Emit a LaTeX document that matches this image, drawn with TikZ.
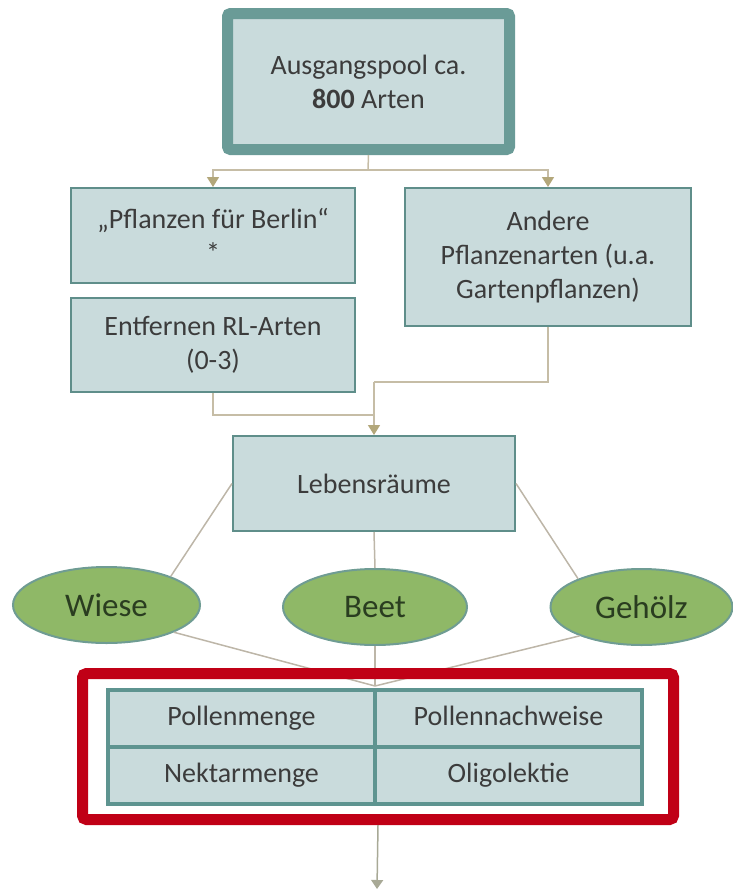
\documentclass[tikz,border=0pt]{standalone}
\usepackage{fontspec}
\setmainfont{Carlito}
\usetikzlibrary{arrows.meta,shapes.geometric}
\definecolor{boxfill}{HTML}{C9DBDC}
\definecolor{boxline}{HTML}{5F8E8A}
\definecolor{topline}{HTML}{6A9B97}
\definecolor{tabline}{HTML}{5E9490}
\definecolor{ellfill}{HTML}{8FB867}
\definecolor{ellline}{HTML}{6F9C93}
\definecolor{elltext}{HTML}{2A3D20}
\definecolor{txt}{HTML}{3C3C3C}
\definecolor{conncol}{HTML}{C6BDA6}
\definecolor{tipcol}{HTML}{B3A77A}
\definecolor{glinecol}{HTML}{BDB6A8}
\definecolor{framered}{HTML}{C00016}
\definecolor{arrgray}{HTML}{A8A996}
\begin{document}
\begin{tikzpicture}[x=1pt,y=-1pt,
  basefont/.style={font=\fontsize{28}{34}\selectfont},
  flowbox/.style={basefont, draw=boxline, line width=2pt, fill=boxfill, text=txt, align=center, inner sep=0pt},
  topbox/.style={basefont, draw=topline, line width=11pt, fill=boxfill, text=txt, align=center, inner sep=0pt, rounded corners=3pt},
  habitat/.style={ellipse, draw=ellline, line width=2pt, fill=ellfill, text=elltext, inner sep=0pt, font=\fontsize{33}{38}\selectfont},
  cell/.style={basefont, draw=tabline, line width=4pt, fill=boxfill, text=txt, inner sep=0pt, minimum width=267pt, minimum height=57pt, text height=19pt, text depth=6pt},
  conn/.style={draw=conncol, line width=1.5pt},
  arr/.style={conn, -{Triangle[width=12pt,length=10pt,color=tipcol]}},
  gline/.style={draw=glinecol, line width=1.5pt},
  redframe/.style={draw=framered, line width=11pt, rounded corners=4pt, inner sep=0pt},
  endarr/.style={draw=arrgray, line width=1.5pt, -{Triangle[width=12pt,length=9pt,color=arrgray]}}
]
\useasboundingbox (0,0) rectangle (733,894);

% boxes
\node[topbox, minimum width=282pt, minimum height=136pt] (pool) at (368.5,81.5) {Ausgangspool ca.\\\textbf{800} Arten};
\node[flowbox, minimum width=284pt, minimum height=95pt] (pfl) at (213,235.5) {„Pflanzen für Berlin“\\*};
\node[flowbox, minimum width=284pt, minimum height=94pt] (rl) at (213,345) {Entfernen RL-Arten\\(0-3)};
\node[flowbox, minimum width=286pt, minimum height=138pt] (andere) at (548,257) {Andere\\Pflanzenarten (u.a.\\Gartenpflanzen)};
\node[flowbox, minimum width=282pt, minimum height=95pt] (leb) at (374,483.5) {Lebensräume};

% habitats
\node[habitat, minimum width=187pt, minimum height=76pt] (wiese) at (106.5,605) {Wiese};
\node[habitat, minimum width=184pt, minimum height=76pt] (beet) at (375,607) {Beet};
\node[habitat, minimum width=182pt, minimum height=76pt] (geholz) at (641.5,607) {Gehölz};

% connectors top
\coordinate (j1) at (368,170);
\draw[conn] (pool.south) -- (j1);
\draw[arr] (j1) -| (pfl.north);
\draw[arr] (j1) -| (andere.north);
\coordinate (j2) at (374,415);
\coordinate (j3) at (374,382);
\draw[conn] (rl.south) |- (j2);
\draw[conn] (andere.south) |- (j3);
\draw[arr] (j3) -- (leb.north);

% habitat lines
\draw[gline] (leb.west) -- (wiese.24);
\draw[gline] (leb.south) -- (beet.north);
\draw[gline] (leb.east) -- (geholz.156);
\coordinate (conv) at (375,686);
\draw[gline] (wiese.338) -- (conv);
\draw[gline] (beet.south) -- (conv);
\draw[gline] (geholz.205) -- (conv);

% red frame and table
\node[redframe, minimum width=591pt, minimum height=146pt] (frame) at (378,746.5) {};
\node[cell] (pm) at (241.5,718.5) {Pollenmenge};
\node[cell] (pn) at (508.5,718.5) {Pollennachweise};
\node[cell] (nm) at (241.5,775.5) {Nektarmenge};
\node[cell] (ol) at (508.5,775.5) {Oligolektie};

% bottom arrow
\coordinate (fin) at (377,889);
\draw[endarr] (frame.south) -- (fin);
\end{tikzpicture}
\end{document}
